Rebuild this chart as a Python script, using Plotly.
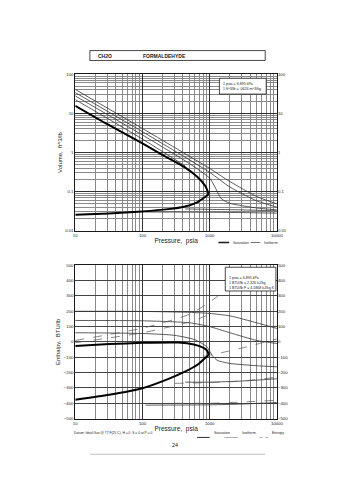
import plotly.graph_objects as go

# ---------------- data: volume chart ----------------
sat_vap_p = [10, 30, 100, 200, 417, 652, 861, 960]
sat_vap_v = [15.7, 5.3, 1.71, 0.86, 0.43, 0.239, 0.139, 0.09]
sat_liq_p = [10, 31.5, 100, 240, 417, 652, 810, 930, 960]
sat_liq_v = [0.0255, 0.0275, 0.031, 0.0355, 0.041, 0.053, 0.068, 0.081, 0.09]

iso_v = {
    "500 F": ([10, 100, 1000, 2000, 5000, 10000], [41, 4.1, 0.39, 0.18, 0.075, 0.048]),
    "400 F": ([10, 100, 1000, 2000, 5000, 10000], [34, 3.4, 0.31, 0.13, 0.058, 0.040]),
    "300 F": ([10, 100, 500, 1000, 1200, 1500, 2000, 5000, 10000], [28, 2.8, 0.52, 0.22, 0.13, 0.065, 0.05, 0.038, 0.034]),
    "200 F": ([10, 100, 433], [22.5, 2.2, 0.45]),
    "200 F liq": ([433, 1000, 3000, 10000], [0.036, 0.035, 0.034, 0.032]),
    "100 F liq": ([111, 1000, 3000, 10000], [0.030, 0.0295, 0.029, 0.028]),
}
v_label_pos = {"500 F": (1250, 0.31), "400 F": (1250, 0.2), "300 F": (1250, 0.075),
               "200 F": (1150, 0.036), "100 F": (1200, 0.0295)}

# ---------------- data: enthalpy chart ----------------
h_vap_p = [10, 32, 100, 342, 583, 812, 928, 960]
h_vap_h = [-26, -14, -6, -4, -17, -39, -60, -86]
h_liq_p = [10, 32, 100, 244, 427, 667, 840, 960]
h_liq_h = [-377, -345, -302, -241, -194, -147, -108, -86]

iso_h = {
    "500 F": ([10, 100, 500, 1000, 2000, 5000, 10000], [200, 199, 193, 186, 170, 125, 88]),
    "400 F": ([10, 100, 500, 1000, 2000, 5000, 10000], [140, 138, 125, 100, 60, 10, -10]),
    "300 F": ([10, 100, 300, 600, 900, 1100, 1300, 2000, 5000, 10000], [60, 55, 43, 15, -30, -90, -120, -140, -155, -162]),
    "200 F liq": ([433, 1000, 3000, 10000], [-262, -262, -255, -240]),
    "100 F liq": ([111, 1000, 3000, 10000], [-412, -410, -405, -395]),
}
h_label_pos = {"500 F": (1500, 183), "400 F": (1100, 80), "300 F": (1350, -125),
               "200 F": (1350, -287), "100 F": (1350, -410)}

ent = {
    "S = 0.05": ([10, 100, 500, 1000, 2000], [10, 90, 180, 260, 360]),
    "S = 0": ([10, 100, 500, 1000], [-5, 60, 130, 180]),
    "S = -0.05": ([800, 1500, 3000, 10000], [-95, -70, -40, 20]),
    "S = -0.10": ([300, 1000, 3000, 10000], [-270, -265, -255, -230]),
    "S = -0.20": ([300, 1000, 3000, 10000], [-400, -400, -392, -380]),
}
s_label_pos = {"S = 0.05": (560, 193), "S = 0": (530, 130), "S = -0.05": (1650, -70),
               "S = -0.10": (560, -262), "S = -0.20": (560, -392)}

x_ticks = [10, 100, 1000, 10000]
v_ticks = [0.01, 0.1, 1, 10, 100]
v_ticktext = ["0.01", "0.1", "1", "10", "100"]
h_ticks = [-500, -400, -300, -200, -100, 0, 100, 200, 300, 400, 500]

top_note = ["1 psia = 6.895 kPa", "1 ft^3/lb = .0624 m^3/kg"]
bottom_note = ["1 psia = 6.895 kPa", "1 BTU/lb = 2.326 kJ/kg", "1 BTU/lb F = 4.1868 kJ/kg K"]

FONT = "Liberation Sans, Arial, sans-serif"
INK = "#1a1a1a"
GRID = "#8a8a8a"
minor_log_x = [m * 10 ** k for k in range(1, 4) for m in range(2, 10)]
minor_log_y = [m * 10 ** k for k in range(-2, 2) for m in range(2, 10)]

# page geometry (the page body has an 8 px margin)
W, H, OFF = 347, 472, 8
def px(x):
    return (x - OFF) / W
def py(y):
    return 1 - (y - OFF) / H

fig = go.Figure()

def line(x, y, xa, ya, width=0.8, color="#333", dash="solid"):
    fig.add_trace(go.Scatter(x=x, y=y, xaxis=xa, yaxis=ya, mode="lines",
                             line=dict(width=width, color=color, dash=dash, shape="spline", smoothing=0.6),
                             hoverinfo="skip", showlegend=False))

# top chart
for name, (p, v) in iso_v.items():
    line(p, v, "x", "y")
line(sat_vap_p, sat_vap_v, "x", "y", width=2, color="#000")
line(sat_liq_p, sat_liq_v, "x", "y", width=2, color="#000")
for name, (p, v) in v_label_pos.items():
    fig.add_annotation(x=p, y=v, xref="x", yref="y", text=name, showarrow=False,
                       font=dict(size=3.5, family=FONT, color=INK), bgcolor="white", borderpad=0)
# bottom chart
for name, (p, h) in iso_h.items():
    line(p, h, "x2", "y2")
for name, (p, h) in ent.items():
    line(p, h, "x2", "y2", width=0.7, color="#555", dash="dash")
line(h_vap_p, h_vap_h, "x2", "y2", width=2, color="#000")
line(h_liq_p, h_liq_h, "x2", "y2", width=2, color="#000")
for name, (p, h) in h_label_pos.items():
    fig.add_annotation(x=p, y=h, xref="x2", yref="y2", text=name, showarrow=False,
                       font=dict(size=3.5, family=FONT, color=INK), bgcolor="white", borderpad=0)
for name, (p, h) in s_label_pos.items():
    fig.add_annotation(x=p, y=h, xref="x2", yref="y2", text=name, showarrow=False,
                       font=dict(size=3.5, family=FONT, color=INK), bgcolor="white", borderpad=0)

# invisible traces for mirrored axes
fig.add_trace(go.Scatter(x=[10], y=[1], xaxis="x", yaxis="y3", mode="markers", opacity=0, showlegend=False, hoverinfo="skip"))
fig.add_trace(go.Scatter(x=[10], y=[0], xaxis="x2", yaxis="y4", mode="markers", opacity=0, showlegend=False, hoverinfo="skip"))

XD = [px(75), px(282)]
TOPD = [py(231), py(73)]
BOTD = [py(421), py(266)]
tickfont = dict(size=4.3, family=FONT, color=INK)

common_x = dict(type="log", range=[1, 4], tickvals=x_ticks, ticktext=[str(t) for t in x_ticks],
                showgrid=True, gridcolor="#333", gridwidth=0.6, showline=True, linecolor=INK, linewidth=0.8,
                mirror=True, ticks="", tickfont=tickfont, zeroline=False, domain=XD,
                minor=dict(tickvals=minor_log_x, showgrid=True, gridcolor=GRID, gridwidth=0.5))

fig.update_layout(
    width=W, height=H, margin=dict(l=0, r=0, t=0, b=0),
    paper_bgcolor="white", plot_bgcolor="white", showlegend=False,
    xaxis=dict(**common_x, anchor="y",
               title=dict(text="Pressure,  psia", font=dict(size=6.5, family=FONT, color=INK), standoff=1)),
    yaxis=dict(type="log", range=[-2, 2], tickvals=v_ticks, ticktext=v_ticktext, domain=TOPD, anchor="x",
               showgrid=True, gridcolor="#333", gridwidth=0.6, showline=True, linecolor=INK, linewidth=0.8,
               mirror=True, ticks="", tickfont=tickfont, zeroline=False,
               minor=dict(tickvals=minor_log_y, showgrid=True, gridcolor=GRID, gridwidth=0.5),
               title=dict(text="Volume,  ft^3/lb", font=dict(size=6, family=FONT, color=INK), standoff=2)),
    yaxis3=dict(type="log", range=[-2, 2], tickvals=v_ticks, ticktext=v_ticktext, overlaying="y", side="right",
                anchor="x", showgrid=False, ticks="", tickfont=tickfont, zeroline=False),
    xaxis2=dict(**common_x, anchor="y2",
                title=dict(text="Pressure,  psia", font=dict(size=6.5, family=FONT, color=INK), standoff=1)),
    yaxis2=dict(range=[-500, 500], tickvals=h_ticks, domain=BOTD, anchor="x2",
                showgrid=True, gridcolor="#444", gridwidth=0.6, showline=True, linecolor=INK, linewidth=0.8,
                mirror=True, ticks="", tickfont=tickfont, zeroline=False,
                title=dict(text="Enthalpy,  BTU/lb", font=dict(size=6, family=FONT, color=INK), standoff=2)),
    yaxis4=dict(range=[-500, 500], tickvals=h_ticks, overlaying="y2", side="right", anchor="x2",
                showgrid=False, ticks="", tickfont=tickfont, zeroline=False),
)

# title box
fig.add_shape(type="rect", xref="paper", yref="paper", x0=px(90), x1=px(270),
              y0=py(59), y1=py(49), line=dict(color=INK, width=0.8))
fig.add_annotation(xref="paper", yref="paper", x=px(96), y=py(54), text="<b>CH2O</b>",
                   showarrow=False, xanchor="left", yanchor="middle", font=dict(size=5, family=FONT, color=INK))
fig.add_annotation(xref="paper", yref="paper", x=px(143), y=py(54), text="<b>FORMALDEHYDE</b>",
                   showarrow=False, xanchor="left", yanchor="middle", font=dict(size=5, family=FONT, color=INK))

# conversion boxes
def note_box(x0, y0, x1, y1, lines, tx, ys):
    fig.add_shape(type="rect", xref="paper", yref="paper", x0=px(x0), x1=px(x1),
                  y0=py(y1), y1=py(y0), line=dict(color=INK, width=0.8),
                  fillcolor="white", layer="above")
    for txt, yy in zip(lines, ys):
        fig.add_annotation(xref="paper", yref="paper", x=px(tx), y=py(yy), text=txt,
                           showarrow=False, xanchor="left", yanchor="middle",
                           font=dict(size=3.6, family=FONT, color=INK))

note_box(223, 77, 271, 93, top_note, 225, [82.7, 87.7])
note_box(229, 268, 281, 292, bottom_note, 231, [279.3, 284, 288.7])

# legends
def leg(x0, x1, y, width, dash, label, lx, color=INK):
    fig.add_shape(type="line", xref="paper", yref="paper", x0=px(x0), x1=px(x1),
                  y0=py(y), y1=py(y), line=dict(color=color, width=width, dash=dash))
    fig.add_annotation(xref="paper", yref="paper", x=px(lx), y=py(y), text=label,
                       showarrow=False, xanchor="left", font=dict(size=3.5, family=FONT, color=INK))

leg(222, 233, 243, 1.5, "solid", "Saturation", 235)
leg(255, 265, 243, 0.6, "solid", "Isotherm", 267)
leg(200, 213, 440, 0.9, "solid", "Saturation", 215)
leg(228, 242, 440, 0.6, "solid", "Isotherm", 244, color="#777")
leg(264, 273, 440, 0.6, "dot", "Entropy", 275, color="#777")

fig.add_annotation(xref="paper", yref="paper", x=px(72), y=py(440),
                   text="Datum: Ideal Gas @ 77 F(25 C), H = 0, S = 0 at P = 0", showarrow=False,
                   xanchor="left", font=dict(size=3.3, family=FONT, color=INK))
fig.add_annotation(xref="paper", yref="paper", x=px(177), y=py(453), text="24",
                   showarrow=False, font=dict(size=5.5, family=FONT, color=INK))
fig.add_shape(type="line", xref="paper", yref="paper", x0=px(90), x1=px(270),
              y0=py(457), y1=py(457), line=dict(color="#999", width=0.6))

fig.write_html("out.html")
